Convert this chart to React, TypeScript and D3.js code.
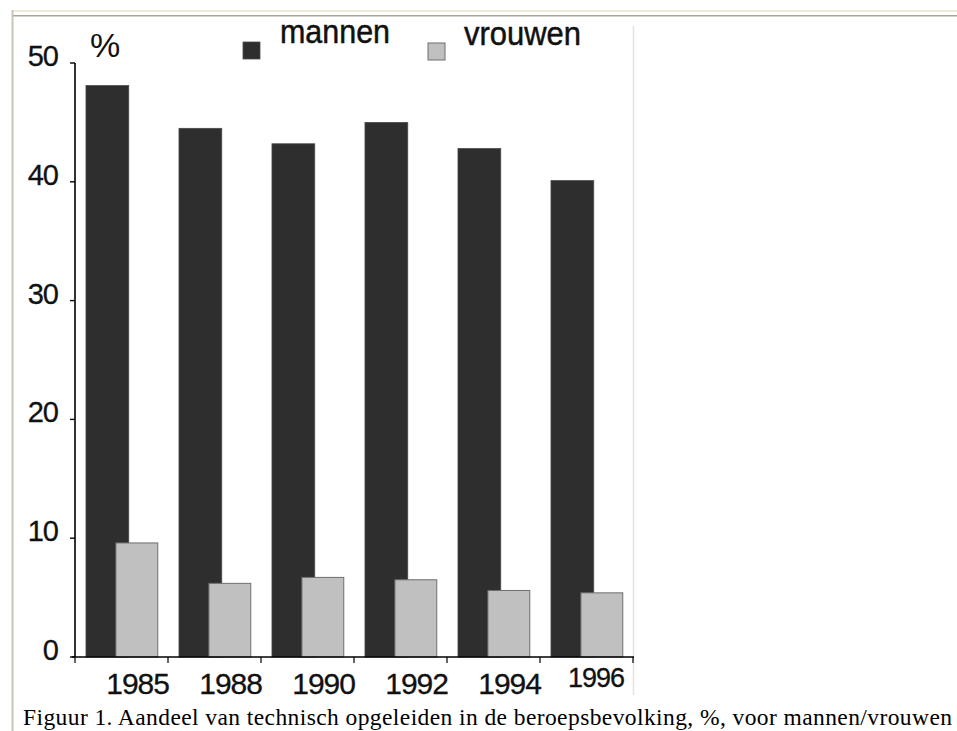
import React from "react";
import * as d3 from "d3";

const years = ["1985", "1988", "1990", "1992", "1994", "1996"];
const mannen = [48.1, 44.5, 43.2, 45.0, 42.8, 40.1];
const vrouwen = [9.6, 6.2, 6.7, 6.5, 5.6, 5.4];
const yTicks = [0, 10, 20, 30, 40, 50];
const seriesNames = ["mannen", "vrouwen"];
const unitLabel = "%";
const caption =
  "Figuur 1. Aandeel van technisch opgeleiden in de beroepsbevolking, %, voor mannen/vrouwen";

const W = 957;
const H = 731;
const DARK = "#2e2e2e";
const LIGHT = "#c0c0c0";
const SANS = "'Liberation Sans', Arial, sans-serif";
const SERIF = "'Liberation Serif', 'Times New Roman', serif";

export default function App() {
  const y = d3.scaleLinear().domain([0, 50]).range([657, 63]);
  const x = d3.scaleBand<string>().domain(years).range([75, 633]).padding(0);
  const bw = x.bandwidth();

  return (
    <svg
      width={W}
      height={H}
      style={{ position: "absolute", left: 0, top: 0, background: "#fff" }}
    >
      {/* page frame */}
      <rect x={12} y={10} width={W - 12} height={2} fill="#efeadb" />
      <rect x={12} y={15} width={W - 12} height={1.5} fill="#aaa697" />
      <rect x={11.5} y={10} width={2} height={H - 10} fill="#c9c5b6" />
      {/* right edge of chart image */}
      <line x1={633.5} x2={633.5} y1={26} y2={695} stroke="#e4e4e4" strokeWidth={1.5} />

      {/* bars */}
      {years.map((yr, i) => {
        const x0 = x(yr)!;
        return (
          <g key={yr}>
            <rect
              x={x0 + bw * 0.118}
              y={y(mannen[i])}
              width={bw * 0.46}
              height={y(0) - y(mannen[i])}
              fill={DARK}
              stroke="#4a4a4a"
              strokeWidth={0.8}
            />
            <rect
              x={x0 + bw * 0.44}
              y={y(vrouwen[i])}
              width={bw * 0.45}
              height={y(0) - y(vrouwen[i])}
              fill={LIGHT}
              stroke="#6e6e6e"
              strokeWidth={1}
            />
          </g>
        );
      })}

      {/* y axis */}
      <line x1={75} x2={75} y1={y(50)} y2={y(0)} stroke="#000" strokeWidth={1.6} />
      {yTicks.map((t) => (
        <g key={t}>
          <line x1={70} x2={75} y1={y(t)} y2={y(t)} stroke="#000" strokeWidth={1.4} />
          <text
            x={58}
            y={y(t) + 3}
            textAnchor="end"
            fontFamily={SANS}
            fontSize={29}
            letterSpacing={-1}
            fill="#111"
            stroke="#111"
            strokeWidth={0.3}
          >
            {t}
          </text>
        </g>
      ))}

      {/* x axis */}
      <line x1={72} x2={634} y1={y(0)} y2={y(0)} stroke="#000" strokeWidth={1.6} />
      {[...years.map((yr) => x(yr)!), 633].map((p, i) => (
        <line key={i} x1={p} x2={p} y1={y(0)} y2={y(0) + 6} stroke="#000" strokeWidth={1.2} />
      ))}
      {years.map((yr, i) => {
        const last = i === years.length - 1;
        return (
          <text
            key={yr}
            x={last ? x(yr)! + bw - 9 : x(yr)! + bw + 1}
            y={last ? 687 : 694}
            textAnchor="end"
            fontFamily={SANS}
            fontSize={last ? 27 : 30}
            letterSpacing={-1}
            fill="#111"
            stroke="#111"
            strokeWidth={0.3}
          >
            {yr}
          </text>
        );
      })}

      {/* unit */}
      <text x={90} y={57} fontFamily={SANS} fontSize={34} fill="#111">
        {unitLabel}
      </text>

      {/* legend */}
      <rect x={243} y={42} width={17} height={17} fill={DARK} stroke="#4a4a4a" strokeWidth={0.8} />
      <text
        x={280}
        y={43}
        fontFamily={SANS}
        fontSize={34}
        textLength={110}
        lengthAdjust="spacingAndGlyphs"
        fill="#111"
        stroke="#111"
        strokeWidth={0.5}
      >
        {seriesNames[0]}
      </text>
      <rect x={428} y={43} width={17} height={17} fill={LIGHT} stroke="#6e6e6e" strokeWidth={1} />
      <text
        x={464}
        y={45}
        fontFamily={SANS}
        fontSize={34}
        textLength={117}
        lengthAdjust="spacingAndGlyphs"
        fill="#111"
        stroke="#111"
        strokeWidth={0.5}
      >
        {seriesNames[1]}
      </text>

      {/* caption */}
      <text
        x={23}
        y={725}
        fontFamily={SERIF}
        fontSize={23.5}
        textLength={929}
        lengthAdjust="spacing"
        fill="#000"
      >
        {caption}
      </text>
    </svg>
  );
}
